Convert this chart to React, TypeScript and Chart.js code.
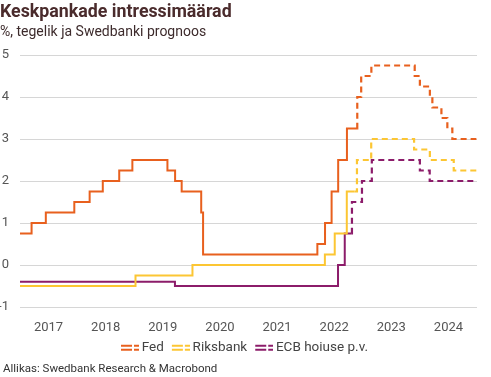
import { useEffect, useRef } from "react";
import { Chart, registerables } from "chart.js";

Chart.register(...registerables);

const FONT = "Roboto, 'Open Sans', sans-serif";

// ---- Data ----
const yearLabels = [2017, 2018, 2019, 2020, 2021, 2022, 2023, 2024];
const yTicks = [-1, 0, 1, 2, 3, 4, 5];
const seriesNames = ["Fed", "Riksbank", "ECB hoiuse p.v."];
const seriesColors = ["#e8601e", "#fcc633", "#8c1c6a"];

const fedActualDates = [
  "2017-01-01", "2017-03-16", "2017-06-15", "2017-12-14", "2018-03-22", "2018-06-14",
  "2018-09-27", "2018-12-20", "2019-08-01", "2019-09-19", "2019-10-31", "2020-03-04",
  "2020-03-16", "2022-03-17", "2022-05-05", "2022-06-16", "2022-07-28", "2022-09-22",
  "2022-11-26",
];
const fedActualValues = [
  0.75, 1.0, 1.25, 1.5, 1.75, 2.0, 2.25, 2.5, 2.25, 2.0, 1.75, 1.25, 0.25, 0.5, 1.0, 1.75,
  2.5, 3.25, 3.25,
];
const fedForecastDates = [
  "2022-11-26", "2022-11-27", "2022-12-22", "2023-02-25", "2023-11-29", "2024-01-01",
  "2024-03-05", "2024-03-21", "2024-05-18", "2024-06-25", "2024-07-27", "2024-12-28",
];
const fedForecastValues = [3.25, 4.0, 4.5, 4.75, 4.5, 4.25, 4.0, 3.75, 3.5, 3.25, 3.0, 3.0];

const riksActualDates = [
  "2017-01-01", "2019-01-09", "2020-01-08", "2022-05-04", "2022-07-06", "2022-09-21",
  "2022-11-08",
];
const riksActualValues = [-0.5, -0.25, 0.0, 0.25, 0.75, 1.75, 1.75];
const riksForecastDates = [
  "2022-11-08", "2022-11-25", "2023-02-24", "2023-11-25", "2024-03-05", "2024-08-05",
  "2024-12-28",
];
const riksForecastValues = [1.75, 2.5, 3.0, 2.75, 2.5, 2.25, 2.25];

const ecbActualDates = ["2017-01-01", "2019-09-18", "2022-07-27", "2022-09-08", "2022-10-23"];
const ecbActualValues = [-0.4, -0.5, 0.0, 0.75, 0.75];
const ecbForecastDates = [
  "2022-10-23", "2022-10-24", "2022-12-27", "2023-02-28", "2024-01-01", "2024-03-04",
  "2024-12-28",
];
const ecbForecastValues = [0.75, 1.5, 2.0, 2.5, 2.25, 2.0, 2.0];

// ---- Helpers ----
function toYear(d: string): number {
  const [y, m, day] = d.split("-").map(Number);
  const start = Date.UTC(y, 0, 1);
  const end = Date.UTC(y + 1, 0, 1);
  return y + (Date.UTC(y, m - 1, day) - start) / (end - start);
}
function pts(dates: string[], values: number[]) {
  return dates.map((d, i) => ({ x: toYear(d), y: values[i] }));
}
// legend icon: 20px wide image, the two dashed strokes occupy the right 18px
function makeIcon(color: string) {
  const c = document.createElement("canvas");
  c.width = 20;
  c.height = 8;
  const ctx = c.getContext("2d")!;
  ctx.strokeStyle = color;
  ctx.lineWidth = 2;
  ctx.beginPath();
  ctx.moveTo(2, 2);
  ctx.lineTo(13, 2);
  ctx.moveTo(15, 2);
  ctx.lineTo(20, 2);
  ctx.moveTo(2, 6);
  ctx.lineTo(13, 6);
  ctx.moveTo(15, 6);
  ctx.lineTo(20, 6);
  ctx.stroke();
  return c;
}

export default function App() {
  const ref = useRef<HTMLCanvasElement>(null);

  useEffect(() => {
    const icons = seriesColors.map(makeIcon);
    const solid = (data: { x: number; y: number }[], color: string) => ({
      data,
      borderColor: color,
      backgroundColor: color,
      borderWidth: 2,
      stepped: true as const,
      pointRadius: 0,
      fill: false,
    });
    const dashed = (data: { x: number; y: number }[], color: string) => ({
      ...solid(data, color),
      borderWidth: 2.2,
      borderDash: [6, 4],
    });
    const chart = new Chart(ref.current!, {
      type: "line",
      data: {
        datasets: [
          solid(pts(fedActualDates, fedActualValues), seriesColors[0]),
          solid(pts(riksActualDates, riksActualValues), seriesColors[1]),
          solid(pts(ecbActualDates, ecbActualValues), seriesColors[2]),
          dashed(pts(fedForecastDates, fedForecastValues), seriesColors[0]),
          dashed(pts(riksForecastDates, riksForecastValues), seriesColors[1]),
          dashed(pts(ecbForecastDates, ecbForecastValues), seriesColors[2]),
        ],
      },
      options: {
        responsive: false,
        animation: false,
        devicePixelRatio: 1,
        layout: { padding: { top: 55, bottom: 12.5, left: 0, right: 0 } },
        plugins: {
          title: { display: false },
          tooltip: { enabled: false },
          legend: {
            display: true,
            position: "bottom",
            labels: {
              usePointStyle: true,
              pointStyleWidth: 12,
              padding: 10,
              color: "#444",
              font: { family: FONT, size: 13.5 },
              generateLabels: () =>
                seriesNames.map((name, i) => ({
                  text: name,
                  fillStyle: seriesColors[i],
                  strokeStyle: seriesColors[i],
                  lineWidth: 0,
                  pointStyle: icons[i] as any,
                  datasetIndex: i,
                  hidden: false,
                  fontColor: "#444",
                })),
            },
          },
        },
        scales: {
          x: {
            type: "linear",
            min: 2017,
            max: 2025,
            grid: { display: false, drawTicks: false },
            border: { display: false },
            afterBuildTicks: (scale: any) => {
              scale.ticks = yearLabels.map((y) => ({ value: y + 0.5 }));
            },
            afterFit: (scale: any) => {
              scale.height = 24;
            },
            ticks: {
              autoSkip: false,
              maxRotation: 0,
              padding: 12.5,
              color: "#555",
              font: { family: FONT, size: 13 },
              callback: (v: any) => String(Math.floor(Number(v))),
            },
          },
          y: {
            type: "linear",
            min: -1,
            max: 5,
            afterBuildTicks: (scale: any) => {
              scale.ticks = yTicks.map((v) => ({ value: v }));
            },
            afterFit: (scale: any) => {
              scale.width = 20;
            },
            grid: { color: "#d6d6d6", lineWidth: 1, drawTicks: false },
            border: { display: false },
            ticks: {
              padding: 11,
              color: "#555",
              font: { family: FONT, size: 13 },
              callback: (v: any) => String(v),
            },
          },
          yRight: {
            type: "linear",
            position: "right",
            min: -1,
            max: 5,
            grid: { display: false, drawTicks: false },
            border: { display: false },
            ticks: { display: false },
            afterFit: (scale: any) => {
              scale.width = 14;
            },
          },
        },
      },
    });
    return () => chart.destroy();
  }, []);

  return (
    <div
      style={{
        position: "fixed",
        left: 0,
        top: 0,
        width: 491,
        height: 377,
        background: "#fff",
        fontFamily: FONT,
        overflow: "hidden",
      }}
    >
      <canvas ref={ref} width={491} height={377} style={{ position: "absolute", left: 0, top: 0 }} />
      <div
        style={{
          position: "absolute",
          left: 0,
          top: 1,
          fontSize: 17.8,
          lineHeight: "20px",
          fontWeight: 700,
          color: "#4a2b2c",
          whiteSpace: "nowrap",
        }}
      >
        Keskpankade intressimäärad
      </div>
      <div
        style={{
          position: "absolute",
          left: 0,
          top: 23,
          fontSize: 14,
          lineHeight: "17px",
          color: "#3d2b2c",
          whiteSpace: "nowrap",
        }}
      >
        %, tegelik ja Swedbanki prognoos
      </div>
      <div
        style={{
          position: "absolute",
          left: 3,
          top: 361,
          fontSize: 11.5,
          lineHeight: "14px",
          color: "#333",
          whiteSpace: "nowrap",
        }}
      >
        Allikas: Swedbank Research &amp; Macrobond
      </div>
    </div>
  );
}
